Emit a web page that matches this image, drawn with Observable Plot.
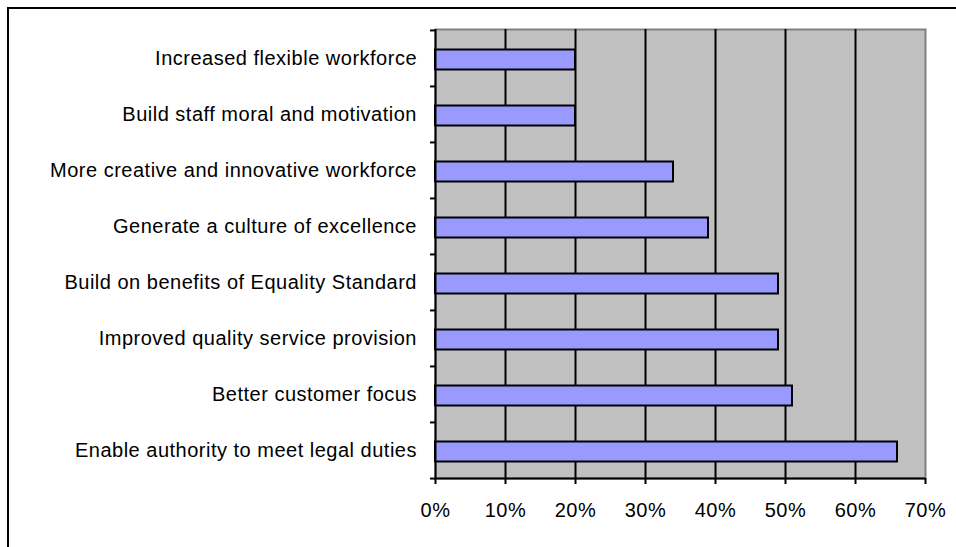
<!DOCTYPE html>
<html>
<head>
<meta charset="utf-8">
<script src="https://cdn.jsdelivr.net/npm/d3@7"></script>
<script src="https://cdn.jsdelivr.net/npm/@observablehq/plot@0.6"></script>
<style>
  html, body { margin: 0; padding: 0; background: #fff; overflow: hidden; }
  #wrap { position: relative; width: 956px; height: 547px; }
  #border {
    position: absolute; left: 7px; top: 7px; width: 2000px; height: 2000px;
    border-left: 2.5px solid #000; border-top: 2.5px solid #000;
    pointer-events: none;
  }
  svg text { font-family: "Liberation Sans", Arial, sans-serif; letter-spacing: 0.5px; }
</style>
</head>
<body>
<div id="wrap"><div id="border"></div></div>
<script>
// Reasons given for the equality work, share of respondents (%)
const categories = [
  "Increased flexible workforce",
  "Build staff moral and motivation",
  "More creative and innovative workforce",
  "Generate a culture of excellence",
  "Build on benefits of Equality Standard",
  "Improved quality service provision",
  "Better customer focus",
  "Enable authority to meet legal duties"
];
const values = [20, 20, 34, 39, 49, 49, 51, 66];
const xTicks = [0, 10, 20, 30, 40, 50, 60, 70];
const gridLines = [10, 20, 30, 40, 50, 60];

const rows = categories.map((c, i) => ({category: c, value: values[i]}));

const width = 956, height = 547;
const marginLeft = 435, marginRight = 31, marginTop = 29, marginBottom = 69;
const step = (height - marginTop - marginBottom) / categories.length;

const chart = Plot.plot({
  width, height, marginLeft, marginRight, marginTop, marginBottom,
  style: {fontFamily: "'Liberation Sans', Arial, sans-serif", fontSize: "20px", color: "#000", background: "transparent"},
  x: {domain: [0, 70], ticks: xTicks, tickFormat: d => d + "%"},
  y: {domain: categories, padding: 0},
  marks: [
    Plot.frame({fill: "#C0C0C0", stroke: "#808080", strokeWidth: 2}),
    Plot.ruleX(gridLines, {stroke: "#000", strokeWidth: 2}),
    Plot.barX(rows, {
      x: "value", y: "category",
      fill: "#9999FF", stroke: "#000", strokeWidth: 2,
      insetTop: 19.5, insetBottom: 16.5
    }),
    // category ticks sit on the band boundaries
    Plot.ruleY(categories, {y: d => d, x1: 0, x2: 0, insetLeft: -5, dy: -step / 2, stroke: "#000", strokeWidth: 2}),
    Plot.ruleY(categories.slice(-1), {y: d => d, x1: 0, x2: 0, insetLeft: -5, dy: step / 2, stroke: "#000", strokeWidth: 2}),
    Plot.ruleX([0], {stroke: "#000", strokeWidth: 2}),
    Plot.ruleY([0], {y: () => categories[categories.length - 1], x1: 0, x2: 70, dy: step / 2, stroke: "#000", strokeWidth: 2}),
    Plot.axisY({tickSize: 0, tickPadding: 18.5, label: null, fontSize: 20}),
    Plot.axisX({ticks: xTicks, tickFormat: d => d + "%", tickSize: 6, tickPadding: 18, strokeWidth: 2, label: null, fontSize: 20})
  ]
});

document.getElementById("wrap").appendChild(chart);
chart.style.position = "absolute";
chart.style.left = "0";
chart.style.top = "0";
</script>
</body>
</html>
